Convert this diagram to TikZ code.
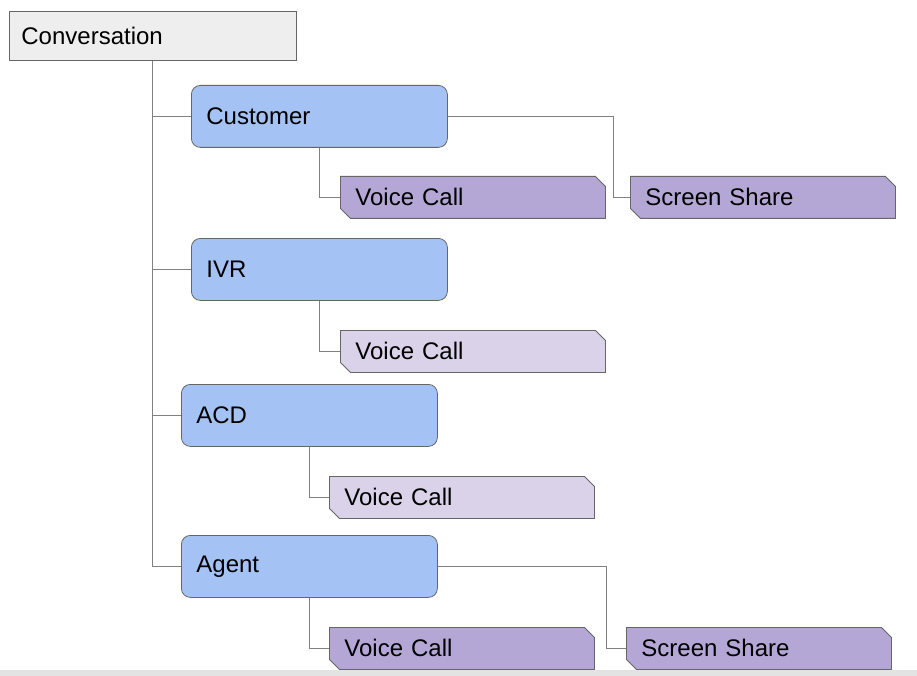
\documentclass[tikz,border=0pt]{standalone}
\usepackage{fontspec}
\setmainfont{Liberation Sans}
\usetikzlibrary{shapes.misc}
\definecolor{convfill}{HTML}{EEEEEE}
\definecolor{bluefill}{HTML}{A4C2F4}
\definecolor{darkpurple}{HTML}{B4A7D6}
\definecolor{lightpurple}{HTML}{D9D2E9}
\definecolor{edgegray}{HTML}{666666}
\definecolor{linegray}{HTML}{808080}
\definecolor{stripgray}{HTML}{E3E3E3}
\begin{document}
\begin{tikzpicture}[x=1pt,y=-1pt,
  lbl/.style={font=\fontsize{24}{27}\selectfont, anchor=north west, draw=edgegray, line width=0.8pt, align=left},
  convbox/.style={lbl, fill=convfill, minimum width=287pt, minimum height=49pt, text width=263pt, inner xsep=12pt},
  rolebox/.style={lbl, fill=bluefill, rounded corners=9pt, minimum width=256pt, minimum height=62pt, text width=226pt, inner xsep=15pt},
  seg/.style={lbl, chamfered rectangle, chamfered rectangle corners={north east,south west}, chamfered rectangle xsep=5pt, chamfered rectangle ysep=5pt, minimum width=255pt, minimum height=42pt, text width=235pt, inner xsep=10pt, inner ysep=0pt},
  darkseg/.style={seg, fill=darkpurple},
  lightseg/.style={seg, fill=lightpurple},
  conn/.style={draw=linegray, line width=0.8pt}
]
\useasboundingbox (0,0) rectangle (917,676);
\fill[stripgray] (0,670) rectangle (917,676);

\node[convbox] (conv) at (9,11) {Conversation};
\node[rolebox] (cust) at (191,85) {Customer};
\node[rolebox] (ivr) at (191,238) {IVR};
\node[rolebox] (acd) at (181,384) {ACD};
\node[rolebox] (agent) at (181,535) {Agent};

\node[darkseg] (vc1) at (340,176) {Voice Call};
\node[darkseg] (ss1) at (630,176) {Screen Share};
\node[lightseg] (vc2) at (340,330) {Voice Call};
\node[lightseg] (vc3) at (329,476) {Voice Call};
\node[darkseg] (vc4) at (329,627) {Voice Call};
\node[darkseg] (ss2) at (626,627) {Screen Share};

\coordinate (trunk) at (152,0);
\draw[conn] (conv.south -| trunk) |- (agent.west);
\draw[conn] (trunk |- cust.west) -- (cust.west);
\draw[conn] (trunk |- ivr.west) -- (ivr.west);
\draw[conn] (trunk |- acd.west) -- (acd.west);

\coordinate (c1) at (319,0);
\coordinate (c2) at (309,0);
\coordinate (r1) at (613,0);
\coordinate (r2) at (606,0);
\draw[conn] (cust.south -| c1) |- (vc1.west);
\draw[conn] (cust.east) -| (r1 |- ss1.west) -- (ss1.west);
\draw[conn] (ivr.south -| c1) |- (vc2.west);
\draw[conn] (acd.south -| c2) |- (vc3.west);
\draw[conn] (agent.south -| c2) |- (vc4.west);
\draw[conn] (agent.east) -| (r2 |- ss2.west) -- (ss2.west);
\end{tikzpicture}
\end{document}
